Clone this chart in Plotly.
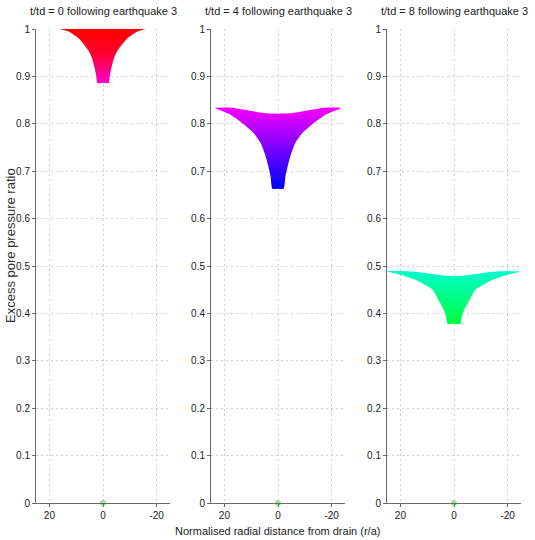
import colorsys
import plotly.graph_objects as go

# Panel titles
titles = [
    "t/td = 0 following earthquake 3",
    "t/td = 4 following earthquake 3",
    "t/td = 8 following earthquake 3",
]

# Pore pressure profiles (radial distance r/a from drain, pressure ratio)
# lower edge of each profile
r_low_0 = [0, 2.1, 2.5, 3.2, 4.2, 5.5, 9, 13, 16]
p_low_0 = [0.886, 0.886, 0.90, 0.92, 0.94, 0.955, 0.98, 0.995, 1.0]
r_low_4 = [0, 2.1, 2.8, 3.6, 4.8, 6.5, 9, 13, 18, 23.4]
p_low_4 = [0.663, 0.663, 0.69, 0.71, 0.735, 0.76, 0.78, 0.80, 0.82, 0.833]
r_low_8 = [0, 2.4, 3.0, 4.0, 5.5, 8, 14, 19, 25]
p_low_8 = [0.378, 0.378, 0.395, 0.41, 0.425, 0.45, 0.47, 0.48, 0.489]

# upper edge of each profile
r_up_0 = [0, 8, 16]
p_up_0 = [1.0, 1.0, 1.0]
r_up_4 = [0, 4, 8, 13, 17, 23.4]
p_up_4 = [0.821, 0.822, 0.825, 0.830, 0.834, 0.834]
r_up_8 = [0, 4, 8, 12.7, 18, 25]
p_up_8 = [0.479, 0.480, 0.483, 0.487, 0.489, 0.489]

# Drain location
drain_x = [0]
drain_y = [0]

# Axis ticks
x_ticks = [20, 0, -20]
x_tick_text = ["20", "0", "-20"]
y_ticks = [i / 10 for i in range(11)]
y_tick_text = ["0", "0.1", "0.2", "0.3", "0.4", "0.5", "0.6", "0.7", "0.8", "0.9", "1"]

# Colour map: hue (degrees) against pressure ratio
cmap_ratio = [0.0, 0.378, 0.489, 0.665, 0.833, 0.886, 0.95, 1.0]
cmap_hue = [0, 135, 168, 240, 298, 312, 350, 360]

profiles = [
    (r_low_0, p_low_0, r_up_0, p_up_0),
    (r_low_4, p_low_4, r_up_4, p_up_4),
    (r_low_8, p_low_8, r_up_8, p_up_8),
]


def hue_at(v):
    for i in range(len(cmap_ratio) - 1):
        a, b = cmap_ratio[i], cmap_ratio[i + 1]
        if a <= v <= b:
            t = (v - a) / (b - a)
            return cmap_hue[i] + t * (cmap_hue[i + 1] - cmap_hue[i])
    return cmap_hue[-1]


n = 200
colour_scale = []
for i in range(n + 1):
    v = i / n
    rr, gg, bb = colorsys.hsv_to_rgb((hue_at(v) / 360.0) % 1.0, 1.0, 1.0)
    colour_scale.append([v, f"rgb({int(rr*255)},{int(gg*255)},{int(bb*255)})"])


def outline(r_lo, p_lo, r_hi, p_hi):
    """Closed outline of a profile mirrored about the drain."""
    xs = list(reversed(r_lo)) + [-r for r in r_lo[1:]]
    ys = list(reversed(p_lo)) + p_lo[1:]
    xs += [-r for r in reversed(r_hi)] + r_hi[1:]
    ys += list(reversed(p_hi)) + p_hi[1:]
    return xs, ys


W, H = 535, 540
x_domains_px = [(36, 170), (211, 345), (387, 521)]
y_top_px, y_bot_px = 29, 503

fig = go.Figure()
font_family = "Liberation Sans, Arial, sans-serif"
axis_col = "#6a6a6a"

for k, (r_lo, p_lo, r_hi, p_hi) in enumerate(profiles):
    suffix = "" if k == 0 else str(k + 1)
    xs, ys = outline(r_lo, p_lo, r_hi, p_hi)
    fig.add_trace(go.Scatter(
        x=xs, y=ys, mode="lines", fill="toself",
        line=dict(width=0, shape="spline", smoothing=0.5),
        fillgradient=dict(type="vertical", colorscale=colour_scale, start=0, stop=1),
        xaxis="x" + suffix, yaxis="y" + suffix, hoverinfo="skip",
    ))
    fig.add_trace(go.Scatter(
        x=drain_x, y=drain_y, mode="markers",
        marker=dict(size=6, color="rgba(110,220,110,0.75)", line=dict(width=0)),
        cliponaxis=False, xaxis="x" + suffix, yaxis="y" + suffix,
    ))

    x0, x1 = x_domains_px[k]
    common = dict(
        showline=True, linecolor=axis_col, linewidth=1,
        ticks="outside", ticklen=3, tickcolor=axis_col,
        showgrid=True, gridcolor="#cdcdcd", griddash="2px,3px", gridwidth=1,
        zeroline=False, tickfont=dict(family=font_family, size=10, color="#222"),
        automargin=False,
    )
    fig.update_layout(**{
        "xaxis" + suffix: dict(
            domain=[x0 / W, x1 / W], range=[25, -25],
            tickvals=x_ticks, ticktext=x_tick_text,
            anchor="y" + suffix, **common,
        ),
        "yaxis" + suffix: dict(
            domain=[(H - y_bot_px) / H, (H - y_top_px) / H], range=[0, 1],
            tickvals=y_ticks, ticktext=y_tick_text,
            anchor="x" + suffix, **common,
        ),
    })
    fig.add_annotation(
        text=titles[k], xref="paper", yref="paper",
        x=(x0 + x1) / 2 / W, y=(H - 11) / H, xanchor="center", yanchor="middle",
        showarrow=False, font=dict(family=font_family, size=11, color="#222"),
    )

fig.add_annotation(
    text="Normalised radial distance from drain (r/a)", xref="paper", yref="paper",
    x=277 / W, y=(H - 531) / H, xanchor="center", yanchor="middle",
    showarrow=False, font=dict(family=font_family, size=11, color="#222"),
)
fig.add_annotation(
    text="Excess pore pressure ratio", xref="paper", yref="paper",
    x=10 / W, y=(H - 246) / H, xanchor="center", yanchor="middle", textangle=-90,
    showarrow=False, font=dict(family=font_family, size=13, color="#333"),
)

fig.update_layout(
    width=W, height=H, margin=dict(l=0, r=0, t=0, b=0),
    paper_bgcolor="white", plot_bgcolor="white", showlegend=False,
)

fig.write_html("out.html")
